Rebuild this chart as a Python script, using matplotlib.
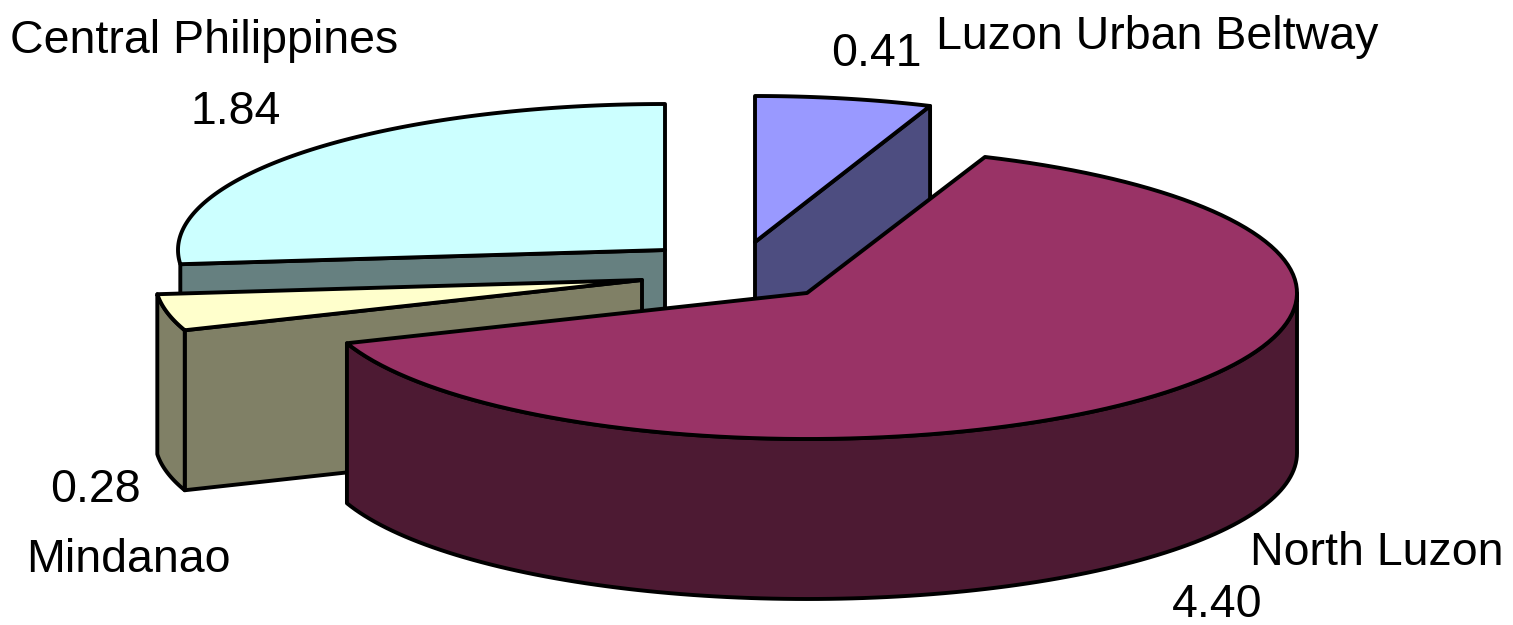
import numpy as np
import matplotlib
matplotlib.use('Agg')
import matplotlib.pyplot as plt
from matplotlib.patches import Polygon

plt.rcParams['font.family'] = ['Liberation Sans', 'DejaVu Sans']

# data, clockwise from 12 o'clock
regions = ['Luzon Urban Beltway', 'North Luzon', 'Mindanao', 'Central Philippines']
values = [0.41, 4.40, 0.28, 1.84]
top_colors = ['#9999FF', '#993366', '#FFFFCC', '#CCFFFF']
side_colors = ['#4D4D80', '#4D1A33', '#808066', '#668080']

# pie centres in pixels, each slice is pulled out by a different amount
centres = [(755, 242), (807, 293), (642, 280), (665, 250)]
radii_x = [482, 490, 487, 487]
ry = 146
depth = 160

W, H = 1513, 625
fig = plt.figure(figsize=(W / 100, H / 100), dpi=100)
ax = fig.add_axes([0, 0, 1, 1])
ax.set_xlim(0, W)
ax.set_ylim(H, 0)
ax.axis('off')

angles = np.cumsum([0] + values) / sum(values) * 2 * np.pi


def arc(i, a, b):
    c = centres[i]
    t = np.linspace(a, b, 120)
    return np.column_stack([c[0] + radii_x[i] * np.sin(t), c[1] - ry * np.cos(t)])


def draw(pts, color, z):
    ax.add_patch(Polygon(pts, closed=True, facecolor=color, edgecolor='black',
                         linewidth=2.8, joinstyle='round', zorder=z))


def cut_face(i, a, z):
    # flat face of a slice, from the centre out to the rim at angle a
    c = centres[i]
    p = arc(i, a, a)[0]
    draw([c, p, (p[0], p[1] + depth), (c[0], c[1] + depth)], side_colors[i], z)


def rim(i, a, b, z):
    top = arc(i, a, b)
    draw(np.vstack([top, (top[::-1] + [0, depth])]), side_colors[i], z)


def top(i, z):
    draw(np.vstack([[centres[i]], arc(i, angles[i], angles[i + 1])]), top_colors[i], z)


# back to front: Central, Luzon Urban, Mindanao, North Luzon
cut_face(3, angles[3], 1)
top(3, 2)

cut_face(0, angles[1], 3)
top(0, 4)

cut_face(2, angles[2], 5)
rim(2, angles[2], angles[3], 5)
top(2, 6)

rim(1, np.pi / 2, angles[2], 7)
top(1, 8)

# labels
fs = 33.5
ax.text(10, 53, regions[3], fontsize=fs, va='baseline', ha='left')
ax.text(191, 124, '%.2f' % values[3], fontsize=fs, va='baseline', ha='left')
ax.text(831, 66, '%.2f' % values[0], fontsize=fs, va='baseline', ha='left')
ax.text(936, 49, regions[0], fontsize=fs, va='baseline', ha='left')
ax.text(50, 502, '%.2f' % values[2], fontsize=fs, va='baseline', ha='left')
ax.text(26, 572, regions[2], fontsize=fs, va='baseline', ha='left')
ax.text(1250, 565, regions[1], fontsize=fs, va='baseline', ha='left')
ax.text(1172, 617, '%.2f' % values[1], fontsize=fs, va='baseline', ha='left')

fig.savefig('out.png', dpi=100, facecolor='white')
